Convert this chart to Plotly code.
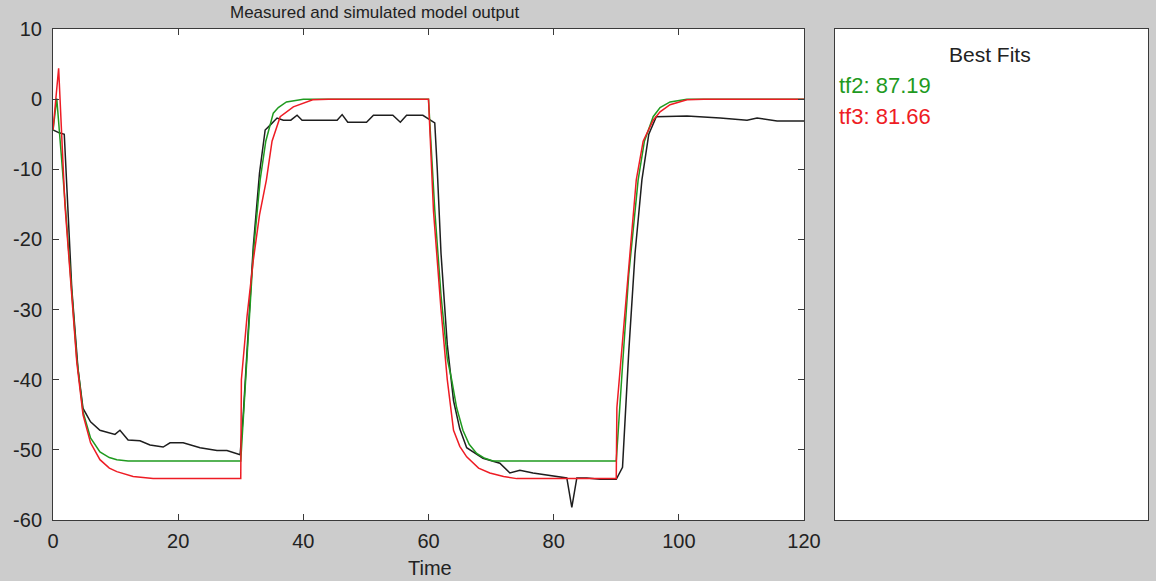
import plotly.graph_objects as go

# ---- data ----
measured = [(0, -4.4), (1, -4.8), (1.8, -5.0), (2.2, -12), (3, -27), (4, -38.5), (4.8, -44.1),
            (6, -46), (7.5, -47.2), (9.9, -47.8), (10.7, -47.2), (12, -48.6), (13.9, -48.7),
            (15.5, -49.3), (17.6, -49.6), (18.7, -49.0), (20.8, -49.0), (23.5, -49.7),
            (26.2, -50.1), (27.8, -50.1), (29.9, -50.7), (30.4, -45), (31, -36), (32, -21),
            (33, -10.5), (33.9, -4.4), (34.7, -3.7), (35.8, -2.7), (36.8, -3.0), (38, -3.0),
            (39, -2.3), (39.8, -3.0), (45.4, -3.0), (46.2, -2.2), (47.1, -3.3), (50.1, -3.3),
            (51.2, -2.3), (54.3, -2.3), (55.5, -3.3), (56.5, -2.3), (59.1, -2.3), (60.2, -3.0),
            (61, -3.4), (61.4, -10), (62, -22), (63, -35), (64, -43), (65, -47), (66.1, -49.7),
            (68.7, -51.2), (71.4, -51.9), (73, -53.3), (74.6, -52.9), (76.7, -53.3),
            (79.4, -53.6), (82.1, -54.0), (82.9, -58.2), (83.7, -54.0), (85.3, -54.0),
            (87.4, -54.2), (90, -54.2), (91, -52.5), (92, -36), (93, -22), (94.1, -11.5),
            (95.2, -5), (96.4, -2.5), (101.3, -2.4), (106.6, -2.7), (110.9, -3.0),
            (112.5, -2.7), (115.7, -3.1), (120, -3.1)]

tf2 = [(0, -4.5), (0.6, 0.1), (1.9, -14.4), (3.1, -28.6), (3.8, -37), (4.8, -44.6), (6, -48.3),
       (7.5, -50.3), (9, -51.1), (10.2, -51.4), (12, -51.6), (30, -51.6), (31, -36), (32, -22),
       (33.1, -11.5), (34, -6), (35.2, -2), (36, -1.2), (37.3, -0.4), (40, 0), (60, 0),
       (61, -15.8), (62, -28), (63, -37), (63.7, -40), (64.5, -44), (65.5, -47.2), (66.5, -49.2),
       (67.7, -50.5), (69, -51.2), (70.3, -51.6), (90, -51.6), (91, -38), (92, -25),
       (93.5, -11.5), (94.5, -6), (95.9, -2.5), (97, -1.2), (98.6, -0.4), (101.3, 0), (120, 0)]

tf3 = [(0, -4.4), (0.9, 4.4), (1.9, -15), (3.1, -29), (3.8, -37.5), (4.8, -45), (6, -49),
       (7.5, -51.4), (9, -52.6), (10.2, -53.1), (12.8, -53.8), (16, -54.1), (30, -54.1),
       (30.1, -40), (31, -31), (32, -23), (33, -16.5), (34.1, -11.5), (35, -6), (36.3, -2.5),
       (38.4, -1.1), (41.5, -0.1), (44, 0), (60, 0), (60.8, -16), (62, -30), (63, -40),
       (64, -47.2), (65, -49.5), (66.1, -51), (68, -52.6), (69.8, -53.3), (72, -53.8),
       (74.1, -54.1), (90, -54.1), (90.1, -44), (91, -35), (92, -24), (93.2, -11.5),
       (94.3, -6), (95.9, -3), (97, -1.8), (98.6, -0.8), (101.3, -0.1), (104, 0), (120, 0)]

fit_names = ["tf2", "tf3"]
fit_values = ["87.19", "81.66"]

x_ticks = [0, 20, 40, 60, 80, 100, 120]
y_ticks = [-60, -50, -40, -30, -20, -10, 0, 10]
y_tick_text = ["-60", "-50", "-40", "-30", "-20", "-10", "0", "10"]

C_BLACK = "#1e1e1e"
C_GREEN = "#1f9a1f"
C_RED = "#ee1c24"
FRAME = "#3a3a3a"
FONT = "Liberation Sans, Arial, sans-serif"

W, H = 1156, 581
def px_x(p): return p / W
def px_y(p): return 1 - p / H

fig = go.Figure()
for series, col in [(measured, C_BLACK), (tf2, C_GREEN), (tf3, C_RED)]:
    fig.add_trace(go.Scatter(x=[p[0] for p in series], y=[p[1] for p in series],
                             mode="lines", line=dict(color=col, width=1.5),
                             showlegend=False, hoverinfo="skip",
                             xaxis="x", yaxis="y"))

# invisible trace for the right panel
fig.add_trace(go.Scatter(x=[0], y=[0], mode="markers", marker=dict(opacity=0),
                         showlegend=False, hoverinfo="skip", xaxis="x2", yaxis="y2"))

fig.update_layout(
    template="none",
    width=W, height=H,
    margin=dict(l=0, r=0, t=0, b=0, pad=0),
    paper_bgcolor="#cccccc",
    plot_bgcolor="#ffffff",
    font=dict(family=FONT, color="#222222"),
    xaxis=dict(domain=[px_x(53), px_x(804)], range=[0, 120], tickvals=x_ticks,
               ticks="inside", ticklen=6, tickcolor=FRAME, showline=True, linecolor=FRAME,
               linewidth=1, mirror="ticks", showgrid=False, zeroline=False, automargin=False,
               tickfont=dict(size=20, family=FONT, color="#222222"), ticklabelstandoff=3),
    yaxis=dict(domain=[px_y(520), px_y(29)], range=[-60, 10], tickvals=y_ticks,
               ticktext=y_tick_text,
               ticks="inside", ticklen=6, tickcolor=FRAME, showline=True, linecolor=FRAME,
               linewidth=1, mirror="ticks", showgrid=False, zeroline=False, automargin=False,
               tickfont=dict(size=20, family=FONT, color="#222222"), ticklabelstandoff=6),
    xaxis2=dict(domain=[px_x(835), px_x(1148)], range=[0, 1], showticklabels=False,
                ticks="", showline=True, linecolor=FRAME, linewidth=1, mirror=True,
                showgrid=False, zeroline=False, anchor="y2", automargin=False),
    yaxis2=dict(domain=[px_y(520), px_y(29)], range=[0, 1], showticklabels=False,
                ticks="", showline=True, linecolor=FRAME, linewidth=1, mirror=True,
                showgrid=False, zeroline=False, anchor="x2", automargin=False),
)

ann = [
    dict(text="Measured and simulated model output", x=px_x(374), y=px_y(13),
         font=dict(size=17, family=FONT, color="#222222")),
    dict(text="Time", x=px_x(430), y=px_y(568), font=dict(size=20, family=FONT, color="#222222")),
    dict(text="Best Fits", x=px_x(990), y=px_y(54), font=dict(size=21, family=FONT, color="#222222")),
]
for i, (n, v) in enumerate(zip(fit_names, fit_values)):
    ann.append(dict(text=f"{n}: {v}", x=px_x(837), y=px_y(85 + 32 * i), xanchor="left",
                    font=dict(size=22, family=FONT, color=[C_GREEN, C_RED][i])))
for a in ann:
    a.setdefault("xanchor", "center")
    a.update(xref="paper", yref="paper", yanchor="middle", showarrow=False)
fig.update_layout(annotations=ann)

fig.write_html("out.html")
